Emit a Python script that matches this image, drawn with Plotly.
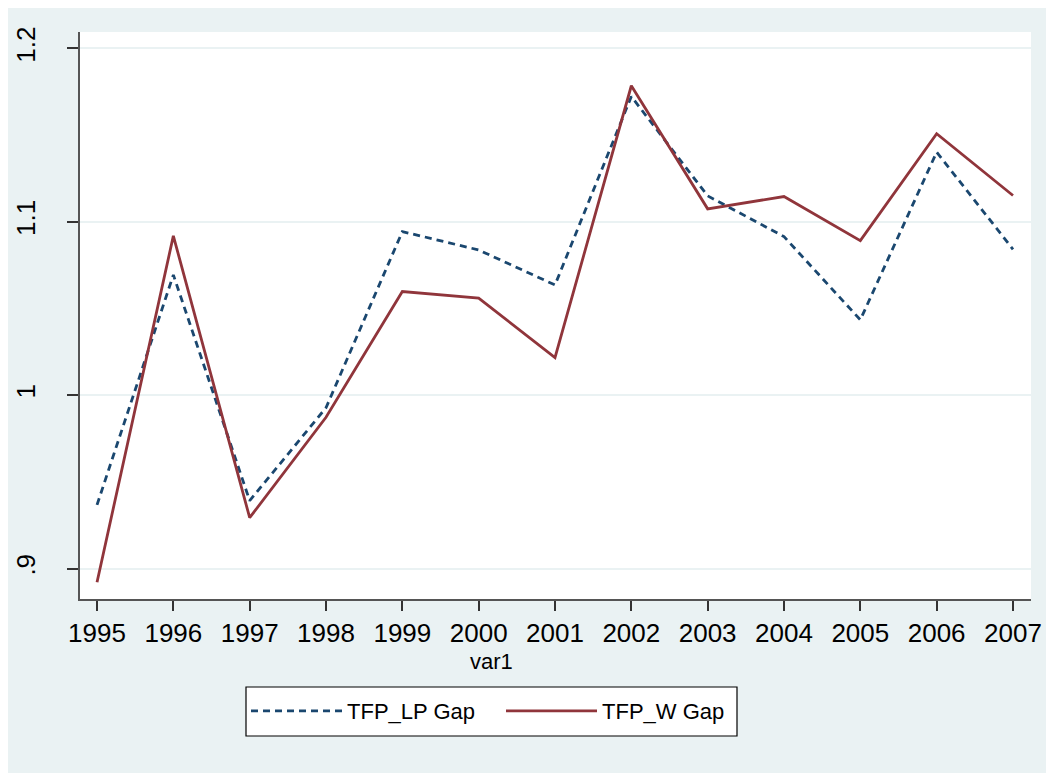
import plotly.graph_objects as go

years = [1995, 1996, 1997, 1998, 1999, 2000, 2001, 2002, 2003, 2004, 2005, 2006, 2007]
tfp_lp_gap = [0.9368, 1.0694, 0.9392, 0.9928, 1.0944, 1.0838, 1.0636, 1.1723, 1.1150, 1.0915, 1.0435, 1.1402, 1.0842]
tfp_w_gap = [0.8922, 1.0919, 0.9294, 0.9873, 1.0598, 1.0560, 1.0217, 1.1785, 1.1075, 1.1146, 1.0892, 1.1508, 1.1152]
y_tickvals = [0.9, 1.0, 1.1, 1.2]
y_ticktext = [".9", "1", "1.1", "1.2"]

BG = "#EAF2F3"
FONT = "Liberation Sans, Arial, sans-serif"

OFF = 8  # page offset of the figure (body margin)
W, H = 1054 - OFF, 773 - OFF
# plot area in page pixels
L, R, T, B = 80, 1031, 32, 599
PW, PH = R - L, B - T


def px(xp):
    return (xp - L) / PW


def py(yp):
    return (B - yp) / PH


fig = go.Figure()
fig.add_trace(go.Scatter(x=years, y=tfp_lp_gap, mode="lines", name="TFP_LP Gap",
                         line=dict(color="#1A476F", width=2.8, dash="7px,5px")))
fig.add_trace(go.Scatter(x=years, y=tfp_w_gap, mode="lines", name="TFP_W Gap",
                         line=dict(color="#90353B", width=2.8)))

fig.update_layout(
    width=W, height=H,
    margin=dict(l=L - OFF, r=1054 - R, t=T - OFF, b=773 - B, autoexpand=False),
    paper_bgcolor=BG, plot_bgcolor="white",
    font=dict(family=FONT, color="black"),
    showlegend=True,
    legend=dict(orientation="h", x=px(246), y=py(711), xanchor="left", yanchor="middle",
                bgcolor="rgba(0,0,0,0)", borderwidth=0,
                font=dict(size=22, family=FONT), itemwidth=91, entrywidth=149,
                tracegroupgap=0),
)
fig.add_shape(type="rect", xref="paper", yref="paper",
              x0=px(246), x1=px(737), y0=py(736), y1=py(687),
              fillcolor="white", line=dict(color="black", width=1.2), layer="below")
fig.update_xaxes(range=[1994.777, 2007.236], tickvals=years, ticks="outside", ticklen=10,
                 tickcolor="#333333", tickwidth=1.5, showline=True, linecolor="#555555",
                 linewidth=2, showgrid=False, zeroline=False, automargin=False,
                 tickfont=dict(size=26, family=FONT))
fig.update_yaxes(range=[0.8825, 1.2095], tickvals=y_tickvals, ticktext=y_ticktext,
                 ticks="outside", ticklen=11, tickcolor="#333333", tickwidth=1.5,
                 showline=True, linecolor="#555555", linewidth=2,
                 showgrid=True, gridcolor=BG, gridwidth=2, zeroline=False, automargin=False,
                 tickangle=-90, ticklabelstandoff=22, tickfont=dict(size=26, family=FONT))
fig.add_annotation(text="var1", xref="paper", yref="paper", x=px(491), y=py(647),
                   xanchor="center", yanchor="top", showarrow=False,
                   font=dict(size=22, family=FONT))

fig.write_html("out.html")
